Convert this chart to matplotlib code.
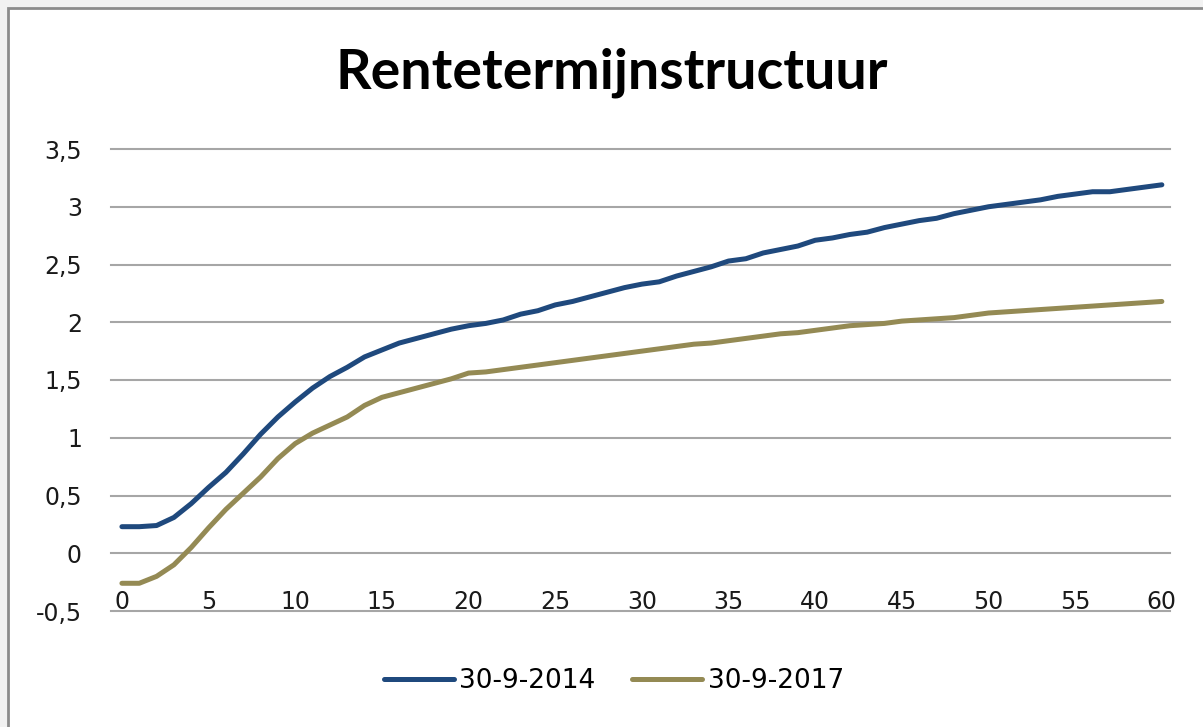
import matplotlib.pyplot as plt
from matplotlib.patches import Rectangle

# looptijd in jaren (categorie-as 0..60)
looptijd = list(range(61))

rente_2014 = [0.23, 0.23, 0.24, 0.31, 0.43, 0.57, 0.70, 0.86, 1.03, 1.18,
              1.31, 1.43, 1.53, 1.61, 1.70, 1.76, 1.82, 1.86, 1.90, 1.94,
              1.97, 1.99, 2.02, 2.07, 2.10, 2.15, 2.18, 2.22, 2.26, 2.30,
              2.33, 2.35, 2.40, 2.44, 2.48, 2.53, 2.55, 2.60, 2.63, 2.66,
              2.71, 2.73, 2.76, 2.78, 2.82, 2.85, 2.88, 2.90, 2.94, 2.97,
              3.00, 3.02, 3.04, 3.06, 3.09, 3.11, 3.13, 3.13, 3.15, 3.17,
              3.19]

rente_2017 = [-0.26, -0.26, -0.20, -0.10, 0.05, 0.22, 0.38, 0.52, 0.66, 0.82,
              0.95, 1.04, 1.11, 1.18, 1.28, 1.35, 1.39, 1.43, 1.47, 1.51,
              1.56, 1.57, 1.59, 1.61, 1.63, 1.65, 1.67, 1.69, 1.71, 1.73,
              1.75, 1.77, 1.79, 1.81, 1.82, 1.84, 1.86, 1.88, 1.90, 1.91,
              1.93, 1.95, 1.97, 1.98, 1.99, 2.01, 2.02, 2.03, 2.04, 2.06,
              2.08, 2.09, 2.10, 2.11, 2.12, 2.13, 2.14, 2.15, 2.16, 2.17,
              2.18]

labels = ['30-9-2014', '30-9-2017']
colors = ['#1F497D', '#948A54']

y_ticks = [-0.5, 0, 0.5, 1, 1.5, 2, 2.5, 3, 3.5]
x_ticks = list(range(0, 61, 5))

W, H = 1203, 727
fig = plt.figure(figsize=(W / 100, H / 100), dpi=100)
fig.patch.set_facecolor('#f2f2f2')

# witte grafiekvlak met grijze rand links/boven
fig.patches.append(Rectangle((8 / W, -0.01), 1.0, 1 - 8 / H + 0.01,
                             transform=fig.transFigure, facecolor='white',
                             edgecolor='#8c8c8c', linewidth=2, zorder=-5))

ax = fig.add_axes([111 / W, 1 - 611 / H, (1170 - 111) / W, (611 - 149) / H])
ax.set_facecolor('none')

for vals, lab, col in zip([rente_2014, rente_2017], labels, colors):
    ax.plot(looptijd, vals, color=col, lw=3.6, label=lab,
            solid_capstyle='round', solid_joinstyle='round', zorder=3)

ax.set_xlim(-0.63, 60.47)
ax.set_ylim(-0.5, 3.5)
ax.set_yticks(y_ticks)
ax.set_yticklabels([f'{v:g}'.replace('.', ',') for v in y_ticks])
ax.set_xticks(x_ticks)
ax.set_xticklabels([str(v) for v in x_ticks])
ax.yaxis.grid(True, color='#a6a6a6', lw=1.5)
ax.set_axisbelow(True)
for gl in ax.get_ygridlines():
    gl.set_clip_on(False)
for s in ax.spines.values():
    s.set_visible(False)

ax.tick_params(axis='y', length=0, pad=21, labelsize=17, labelcolor='#1a1a1a')
ax.tick_params(axis='x', length=0, pad=-15, labelsize=17, labelcolor='#1a1a1a')

fig.text(612 / W, 1 - 73 / H, 'Rentetermijnstructuur', ha='center', va='center',
         fontsize=40, fontweight='bold', family='Lato')

fig.legend(loc='center', bbox_to_anchor=(614 / W, 1 - 681 / H), ncol=2,
           frameon=False, fontsize=19, handlelength=2.65, handletextpad=0.2,
           columnspacing=1.4)

fig.savefig('out.png', dpi=100, facecolor=fig.get_facecolor())
